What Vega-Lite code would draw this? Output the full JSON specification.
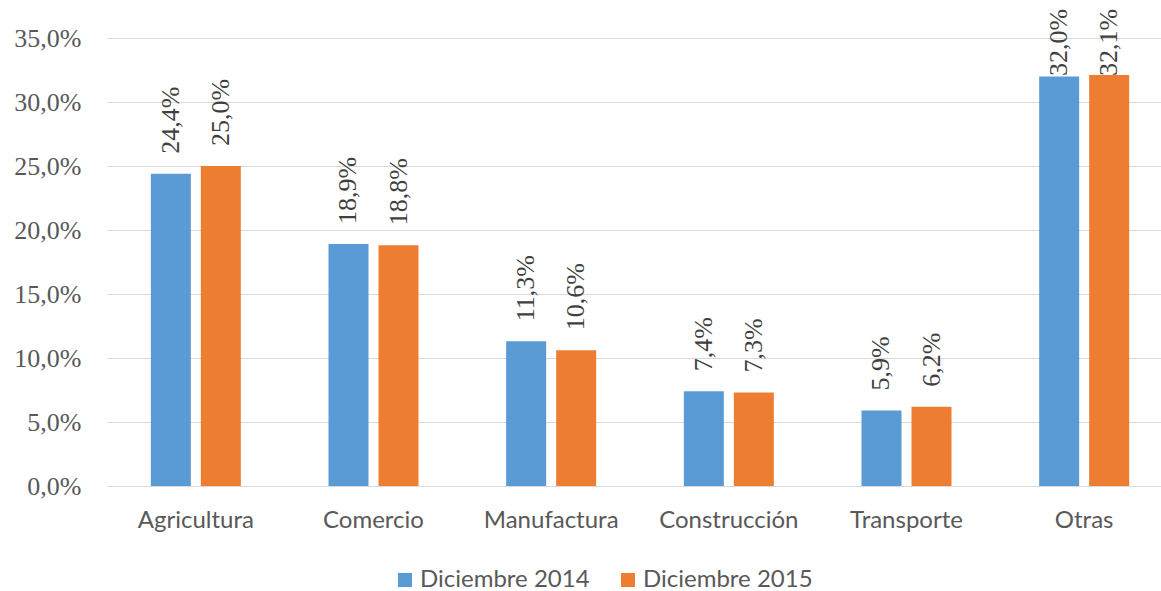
{
  "$schema": "https://vega.github.io/schema/vega-lite/v6.json",
  "autosize": {"type": "none"},
  "padding": {"left": 107, "top": 38, "right": 0, "bottom": 105},
  "width": 1054,
  "height": 448,
  "background": "white",
  "config": {
    "locale": {"number": {"decimal": ",", "thousands": ".", "grouping": [3], "currency": ["", " €"]}},
    "view": {"stroke": null}
  },
  "data": {"values": [
    {"sector": "Agricultura", "serie": "Diciembre 2014", "valor": 0.244},
    {"sector": "Agricultura", "serie": "Diciembre 2015", "valor": 0.250},
    {"sector": "Comercio", "serie": "Diciembre 2014", "valor": 0.189},
    {"sector": "Comercio", "serie": "Diciembre 2015", "valor": 0.188},
    {"sector": "Manufactura", "serie": "Diciembre 2014", "valor": 0.113},
    {"sector": "Manufactura", "serie": "Diciembre 2015", "valor": 0.106},
    {"sector": "Construcción", "serie": "Diciembre 2014", "valor": 0.074},
    {"sector": "Construcción", "serie": "Diciembre 2015", "valor": 0.073},
    {"sector": "Transporte", "serie": "Diciembre 2014", "valor": 0.059},
    {"sector": "Transporte", "serie": "Diciembre 2015", "valor": 0.062},
    {"sector": "Otras", "serie": "Diciembre 2014", "valor": 0.320},
    {"sector": "Otras", "serie": "Diciembre 2015", "valor": 0.321}
  ]},
  "encoding": {
    "x": {
      "field": "sector", "type": "nominal",
      "sort": ["Agricultura", "Comercio", "Manufactura", "Construcción", "Transporte", "Otras"],
      "scale": {"paddingInner": 0.4934, "paddingOuter": 0.2467, "range": [0, 1066]},
      "axis": {
        "title": null, "labelAngle": 0, "ticks": false,
        "domainColor": "#D9D9D9", "domainWidth": 1,
        "labelFont": "Lato", "labelFontSize": 24, "labelColor": "#595959",
        "labelPadding": 22
      }
    },
    "xOffset": {
      "field": "serie", "type": "nominal",
      "scale": {"paddingInner": 0.2, "paddingOuter": 0}
    }
  },
  "layer": [
    {
      "mark": {"type": "bar"},
      "encoding": {
        "y": {
          "field": "valor", "type": "quantitative",
          "scale": {"domain": [0, 0.35], "nice": false},
          "axis": {
            "title": null, "format": ".1%", "values": [0, 0.05, 0.1, 0.15, 0.2, 0.25, 0.3, 0.35],
            "domain": false, "ticks": false, "gridColor": "#D9D9D9", "gridWidth": 1,
            "labelFont": "Liberation Serif", "labelFontSize": 26, "labelColor": "#595959",
            "labelPadding": 26
          }
        },
        "color": {
          "field": "serie", "type": "nominal",
          "scale": {"domain": ["Diciembre 2014", "Diciembre 2015"], "range": ["#5B9BD5", "#ED7D31"]},
          "legend": {
            "title": null, "orient": "none", "direction": "horizontal",
            "legendX": 286, "legendY": 530, "labelLimit": 0,
            "symbolType": "square", "symbolSize": 196, "symbolStrokeWidth": 0,
            "labelFont": "Lato", "labelFontSize": 24, "labelColor": "#595959",
            "labelOffset": 3, "columnPadding": 26
          }
        }
      }
    },
    {
      "transform": [{"calculate": "min(datum.valor, 0.3047)", "as": "posEtiqueta"}],
      "mark": {"type": "text", "angle": -90, "align": "left", "baseline": "middle", "dx": 20,
        "font": "Liberation Serif", "fontSize": 26, "color": "#404040"},
      "encoding": {
        "y": {"field": "posEtiqueta", "type": "quantitative"},
        "text": {"field": "valor", "type": "quantitative", "format": ".1%"}
      }
    }
  ]
}
